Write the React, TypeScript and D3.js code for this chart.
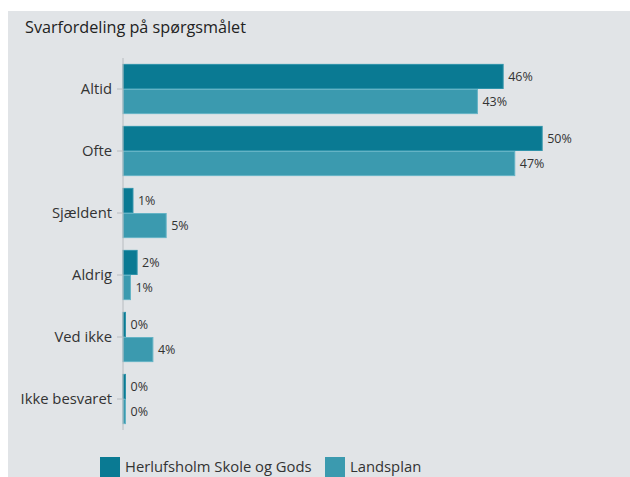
import React from "react";
import * as d3 from "d3";

const categories = ["Altid", "Ofte", "Sjældent", "Aldrig", "Ved ikke", "Ikke besvaret"];
const seriesNames = ["Herlufsholm Skole og Gods", "Landsplan"];
const schoolValues = [45.8, 50.5, 1.2, 1.7, 0.3, 0.3];
const nationalValues = [42.7, 47.2, 5.2, 0.9, 3.6, 0.3];
const schoolLabels = ["46%", "50%", "1%", "2%", "0%", "0%"];
const nationalLabels = ["43%", "47%", "5%", "1%", "4%", "0%"];
const title = "Svarfordeling på spørgsmålet";

const W = 630;
const H = 477;
const colors = ["#0a7a93", "#3b9aaf"];
const strokes = ["#2f93aa", "#64b3c5"];
const FONT = "'Open Sans', Lato, sans-serif";

export default function App() {
  const x = d3.scaleLinear().domain([0, 60]).range([123, 123 + 498]);
  const y = d3.scaleBand<string>().domain(categories).range([58, 430]).paddingInner(0.19).paddingOuter(0.095);
  const inner = d3.scaleBand<number>().domain([0, 1]).range([0, y.bandwidth()]);
  const series = [schoolValues, nationalValues];
  const labels = [schoolLabels, nationalLabels];

  return (
    <svg width={W} height={H} style={{ position: "absolute", left: 0, top: 0 }} fontFamily={FONT}>
      <rect x={0} y={0} width={W} height={H} fill="#ffffff" />
      <rect x={8} y={11} width={W - 8} height={H - 11} fill="#e1e4e7" />
      <text x={25} y={33} fontSize={16.2} fill="#222">{title}</text>

      {series.map((vals, s) =>
        vals.map((v, i) => {
          const y0 = (y(categories[i]) as number) + (inner(s) as number);
          return (
            <g key={`${s}-${i}`}>
              <rect
                x={x(0)}
                y={y0 + 0.5}
                width={Math.max(0, x(v) - x(0))}
                height={inner.bandwidth() - 1}
                fill={colors[s]}
                stroke={strokes[s]}
                strokeWidth={1}
              />
              <text
                x={x(v) + 5}
                y={y0 + inner.bandwidth() / 2}
                dy="0.35em"
                fontSize={12.5}
                fill="#333"
              >
                {labels[s][i]}
              </text>
            </g>
          );
        })
      )}

      <line x1={123} x2={123} y1={58} y2={430} stroke="#b8bcc0" strokeWidth={1} />
      {categories.map((c) => {
        const cy = (y(c) as number) + y.bandwidth() / 2;
        return (
          <g key={c}>
            <line x1={117} x2={123} y1={cy} y2={cy} stroke="#b8bcc0" strokeWidth={1} />
            <text x={112} y={cy} dy="0.35em" textAnchor="end" fontSize={14.8} fill="#333">
              {c}
            </text>
          </g>
        );
      })}

      {seriesNames.map((n, s) => {
        const lx = s === 0 ? 100 : 325;
        return (
          <g key={n}>
            <rect x={lx} y={457} width={20} height={20} fill={colors[s]} />
            <text x={lx + 25} y={472} fontSize={14.8} fill="#333">{n}</text>
          </g>
        );
      })}
    </svg>
  );
}
